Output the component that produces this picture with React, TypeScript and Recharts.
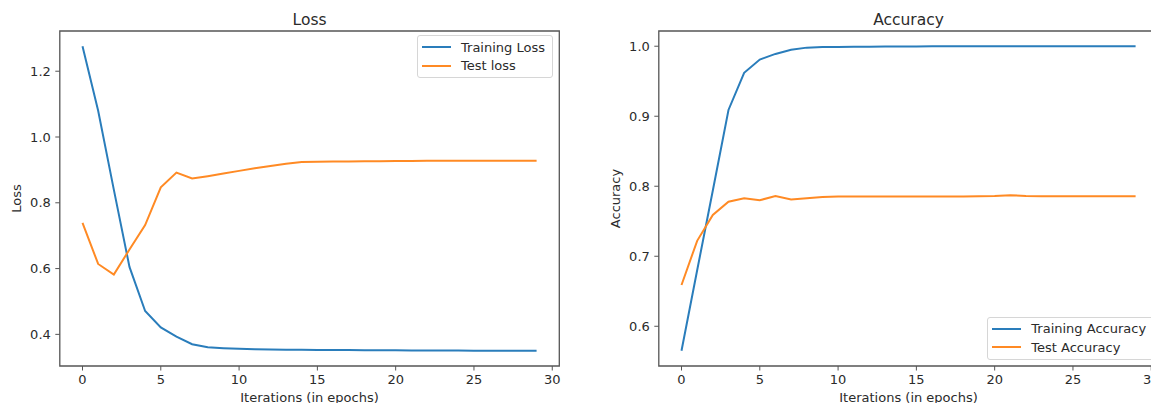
import { LineChart, Line, XAxis, YAxis, ReferenceArea, Legend } from 'recharts'

const epochs = [0, 1, 2, 3, 4, 5, 6, 7, 8, 9, 10, 11, 12, 13, 14, 15, 16, 17, 18, 19, 20, 21, 22, 23, 24, 25, 26, 27, 28, 29]

const trainLoss = [
  1.276, 1.08, 0.84, 0.605, 0.471, 0.421, 0.393, 0.37, 0.361, 0.358,
  0.356, 0.355, 0.354, 0.3535, 0.353, 0.3527, 0.3524, 0.3521, 0.3518, 0.3516,
  0.3514, 0.3512, 0.351, 0.3508, 0.3506, 0.3505, 0.3504, 0.3503, 0.3502, 0.3501,
]
const testLoss = [
  0.739, 0.614, 0.582, 0.658, 0.732, 0.847, 0.892, 0.874, 0.881, 0.889,
  0.897, 0.905, 0.912, 0.919, 0.924, 0.925, 0.9253, 0.9258, 0.9262, 0.9266,
  0.927, 0.9273, 0.9276, 0.9278, 0.928, 0.928, 0.928, 0.928, 0.928, 0.928,
]
const trainAcc = [
  0.565, 0.68, 0.794, 0.909, 0.962, 0.981, 0.989, 0.995, 0.998, 0.999,
  0.999, 0.9992, 0.9994, 0.9995, 0.9996, 0.9997, 0.9998, 0.9999, 0.9999, 0.9999,
  1.0, 1.0, 1.0, 1.0, 1.0, 1.0, 1.0, 1.0, 1.0, 1.0,
]
const testAcc = [
  0.659, 0.722, 0.759, 0.778, 0.783, 0.78, 0.786, 0.781, 0.783, 0.7845,
  0.7855, 0.7855, 0.7855, 0.7855, 0.7855, 0.7855, 0.7855, 0.7855, 0.7855, 0.7857,
  0.786, 0.7872, 0.786, 0.7857, 0.7857, 0.7857, 0.7857, 0.7857, 0.7857, 0.7857,
]

const xTicks = [0, 5, 10, 15, 20, 25, 30]
const lossTicks = [0.4, 0.6, 0.8, 1.0, 1.2]
const accTicks = [0.6, 0.7, 0.8, 0.9, 1.0]

const BLUE = '#2a7dbb'
const ORANGE = '#ff8a24'
const INK = '#2b2b2b'
const FRAME = '#555555'
const FONT = '"DejaVu Sans", sans-serif'

// matplotlib-like autoscale: 5% margin on each side
const pad = (vals: number[]): [number, number] => {
  const lo = Math.min(...vals)
  const hi = Math.max(...vals)
  const m = (hi - lo) * 0.05
  return [lo - m, hi + m]
}

const xDomain = pad(epochs)

const lossData = epochs.map((e, i) => ({ epoch: e, train: trainLoss[i], test: testLoss[i] }))
const accData = epochs.map((e, i) => ({ epoch: e, train: trainAcc[i], test: testAcc[i] }))

const textStyle = { fill: INK, fontSize: 13, fontFamily: FONT }

const LegendBox = ({ payload }: { payload?: { value: string, color: string, dataKey: string }[] }) => {
  const items = [...(payload || [])].sort((a, b) => (a.dataKey === 'train' ? -1 : 1) - (b.dataKey === 'train' ? -1 : 1))
  return (
    <div style={{
      display: 'inline-block',
      background: 'rgba(255,255,255,0.8)',
      border: '1px solid #d6d6d6',
      borderRadius: 3,
      padding: '2px 7px 2px 4px',
      fontFamily: FONT,
      fontSize: 13,
      color: INK,
    }}>
      {items.map((p) => (
        <div key={p.dataKey} style={{ display: 'flex', alignItems: 'center', height: 18.5 }}>
          <span style={{ display: 'inline-block', width: 29, height: 2, background: p.color, marginRight: 10 }} />
          <span style={{ whiteSpace: 'nowrap', lineHeight: '13px' }}>{p.value}</span>
        </div>
      ))}
    </div>
  )
}

const yLabel = (text: string) => (props: any) => {
  const vb = props.viewBox
  const x = vb.x + vb.width - 43.2
  const y = vb.y + vb.height / 2
  return (
    <text x={x} y={y} transform={`rotate(-90, ${x}, ${y})`} textAnchor="middle"
      dominantBaseline="central" fill={INK} fontSize={13} fontFamily={FONT}>
      {text}
    </text>
  )
}

type PanelProps = {
  left: number
  title: string
  ylabel: string
  data: { epoch: number, train: number, test: number }[]
  names: [string, string]
  yTicks: number[]
  legendPos: { left: number, top: number }
}

function Panel({ left, title, ylabel, data, names, yTicks, legendPos }: PanelProps) {
  const yDomain = pad(data.flatMap((d) => [d.train, d.test]))
  return (
    <div style={{ position: 'absolute', left, top: 0 }}>
      <LineChart width={580} height={403} data={data} margin={{ top: 31, right: 20.7, bottom: 0, left: 0 }}>
        <XAxis dataKey="epoch" type="number" domain={xDomain} ticks={xTicks} interval={0}
          allowDataOverflow axisLine={false} tickLine={{ stroke: FRAME }} tickSize={4.5} tickMargin={4.5}
          tick={textStyle} height={37}
          label={{ value: 'Iterations (in epochs)', position: 'insideBottom', offset: 1, ...textStyle }} />
        <YAxis type="number" domain={yDomain} ticks={yTicks} interval={0} allowDataOverflow
          axisLine={false} tickLine={{ stroke: FRAME }} tickSize={4.5} tickMargin={4.5}
          tick={textStyle} width={59.8} tickFormatter={(v: number) => v.toFixed(1)}
          label={{ content: yLabel(ylabel) }} />
        <ReferenceArea x1={xDomain[0]} x2={xDomain[1]} y1={yDomain[0]} y2={yDomain[1]}
          fill="none" fillOpacity={0} stroke={FRAME} strokeWidth={1.3} ifOverflow="visible"
          label={{ value: title, position: 'top', offset: 6, fill: INK, fontSize: 15.5, fontFamily: FONT }} />
        <Line type="linear" dataKey="train" name={names[0]} stroke={BLUE} strokeWidth={2}
          dot={false} isAnimationActive={false} />
        <Line type="linear" dataKey="test" name={names[1]} stroke={ORANGE} strokeWidth={2}
          dot={false} isAnimationActive={false} />
        <Legend layout="vertical" align="center" verticalAlign="middle" content={<LegendBox />}
          wrapperStyle={{ left: legendPos.left, top: legendPos.top, width: 'auto', height: 'auto' }} />
      </LineChart>
    </div>
  )
}

export default function App() {
  return (
    <div style={{ position: 'absolute', left: 0, top: 0, width: 1151, height: 403, overflow: 'hidden', background: '#fff' }}>
      <Panel left={0} title="Loss" ylabel="Loss" data={lossData}
        names={['Training Loss', 'Test loss']} yTicks={lossTicks} legendPos={{ left: 417, top: 35 }} />
      <Panel left={598.8} title="Accuracy" ylabel="Accuracy" data={accData}
        names={['Training Accuracy', 'Test Accuracy']} yTicks={accTicks} legendPos={{ left: 388.5, top: 316.5 }} />
    </div>
  )
}
